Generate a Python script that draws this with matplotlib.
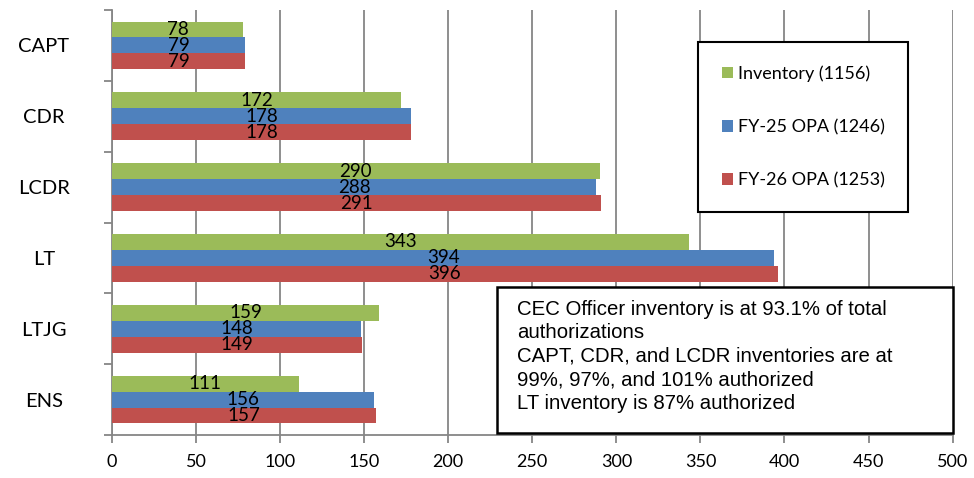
import numpy as np
import matplotlib.pyplot as plt
from matplotlib.patches import Rectangle

ranks = ["CAPT", "CDR", "LCDR", "LT", "LTJG", "ENS"]
inventory = [78, 172, 290, 343, 159, 111]
fy25 = [79, 178, 288, 394, 148, 156]
fy26 = [79, 178, 291, 396, 149, 157]
series_names = ["Inventory (1156)", "FY-25 OPA (1246)", "FY-26 OPA (1253)"]
note_lines = ["CEC Officer inventory is at 93.1% of total",
              "authorizations",
              "CAPT, CDR, and LCDR inventories are at",
              "99%, 97%, and 101% authorized",
              "LT inventory is 87% authorized"]

plt.rcParams['font.family'] = ['Lato', 'DejaVu Sans']

fig = plt.figure(figsize=(9.74, 4.78), dpi=100)
ax = fig.add_axes([0.115, 0.090, 0.863, 0.889])

y = np.arange(len(ranks))
h = 0.225
colors = ["#9BBB59", "#4F81BD", "#C0504D"]
for k, (vals, col, name) in enumerate(zip([inventory, fy25, fy26], colors, series_names)):
    pos = y + (k - 1) * h
    ax.barh(pos, vals, height=h, color=col, label=name, zorder=3)
    for p, v in zip(pos, vals):
        ax.text(v / 2, p, str(v), ha="center", va="center", fontsize=13.5, zorder=4)

ax.set_xlim(0, 500)
ax.set_ylim(len(ranks) - 0.5, -0.5)
ax.set_xticks(np.arange(0, 501, 50))
ax.set_yticks(y)
ax.set_yticklabels(ranks, fontsize=14.5, ha="center")
ax.set_yticks(np.arange(-0.5, len(ranks), 1), minor=True)
ax.tick_params(axis="y", which="major", length=0, pad=49)
ax.tick_params(axis="y", which="minor", length=6, color="#868686", width=1.3)
ax.tick_params(axis="x", length=6, color="#868686", width=1.3, labelsize=13, pad=8)
ax.grid(axis="x", color="#868686", linewidth=1.3, zorder=0)
for s in ["top", "right"]:
    ax.spines[s].set_visible(False)
for s in ["left", "bottom"]:
    ax.spines[s].set_color("#868686")
    ax.spines[s].set_linewidth(1.3)

leg = ax.legend(loc="upper left", bbox_to_anchor=(0.717, 0.912), bbox_transform=fig.transFigure,
                borderaxespad=0, fancybox=False, edgecolor="black", fontsize=13,
                handlelength=0.6, handleheight=0.6, handletextpad=0.3,
                labelspacing=2.05, borderpad=1.3)
leg.get_frame().set_linewidth(1.5)
leg.get_frame().set_alpha(1)

fig.patches.append(Rectangle((497 / 974, 1 - 433 / 478), 456 / 974, 146 / 478,
                             transform=fig.transFigure, facecolor="white",
                             edgecolor="black", linewidth=1.8, zorder=5))
fig.text(517 / 974, 1 - 300 / 478, "\n".join(note_lines), family="Liberation Sans",
         fontsize=14.7, va="top", ha="left", linespacing=1.3, zorder=6)

fig.savefig("out.png", dpi=100)
